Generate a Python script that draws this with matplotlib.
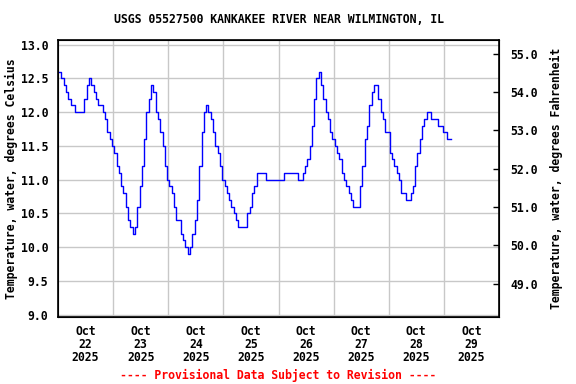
import matplotlib
matplotlib.use("Agg")
import matplotlib.pyplot as plt
import pandas as pd

# water temperature, deg C, hourly readings
oct22 = [12.6, 12.6, 12.5, 12.4, 12.3, 12.2, 12.1, 12.1, 12.0, 12.0, 12.0, 12.0,
         12.2, 12.4, 12.5, 12.4, 12.3, 12.2, 12.1, 12.1, 12.0, 11.9, 11.7, 11.6]
oct23 = [11.5, 11.4, 11.2, 11.1, 10.9, 10.8, 10.6, 10.4, 10.3, 10.2, 10.3, 10.6,
         10.9, 11.2, 11.6, 12.0, 12.2, 12.4, 12.3, 12.0, 11.9, 11.7, 11.5, 11.2]
oct24 = [11.0, 10.9, 10.8, 10.6, 10.4, 10.4, 10.2, 10.1, 10.0, 9.9, 10.0, 10.2,
         10.4, 10.7, 11.2, 11.7, 12.0, 12.1, 12.0, 11.9, 11.7, 11.5, 11.4, 11.2]
oct25 = [11.0, 10.9, 10.8, 10.7, 10.6, 10.5, 10.4, 10.3, 10.3, 10.3, 10.3, 10.5,
         10.6, 10.8, 10.9, 11.1, 11.1, 11.1, 11.1, 11.0, 11.0, 11.0, 11.0, 11.0]
oct26 = [11.0, 11.0, 11.0, 11.1, 11.1, 11.1, 11.1, 11.1, 11.1, 11.0, 11.0, 11.1,
         11.2, 11.3, 11.5, 11.8, 12.2, 12.5, 12.6, 12.4, 12.2, 12.0, 11.9, 11.7]
oct27 = [11.6, 11.5, 11.4, 11.3, 11.1, 11.0, 10.9, 10.8, 10.7, 10.6, 10.6, 10.6,
         10.9, 11.2, 11.6, 11.8, 12.1, 12.3, 12.4, 12.4, 12.2, 12.0, 11.9, 11.7]
oct28 = [11.7, 11.4, 11.3, 11.2, 11.1, 11.0, 10.8, 10.8, 10.7, 10.7, 10.8, 10.9,
         11.2, 11.4, 11.6, 11.8, 11.9, 12.0, 12.0, 11.9, 11.9, 11.9, 11.8, 11.8]
oct29 = [11.7, 11.7, 11.6, 11.6]

temps = oct22 + oct23 + oct24 + oct25 + oct26 + oct27 + oct28 + oct29
times = pd.date_range("2025-10-22 00:00", periods=len(temps), freq="h")

day_nums = [22, 23, 24, 25, 26, 27, 28, 29]
day_labels = ["Oct\n%d\n2025" % d for d in day_nums]
label_pos = pd.to_datetime(["2025-10-%d 12:00" % d for d in day_nums])
grid_pos = pd.to_datetime(["2025-10-%d 00:00" % d for d in range(23, 30)])

c_ticks = [9.0, 9.5, 10.0, 10.5, 11.0, 11.5, 12.0, 12.5, 13.0]
f_ticks = [49.0, 50.0, 51.0, 52.0, 53.0, 54.0, 55.0]

font = {"family": "DejaVu Sans Mono", "weight": "bold", "size": 8.3}

fig = plt.figure(figsize=(5.76, 3.84), dpi=100)
ax = fig.add_axes([58 / 576, 1 - 317 / 384, 441 / 576, 277 / 384])

ax.plot(times, temps, color="#0000ff", linewidth=1.0, drawstyle="steps-mid", zorder=3)

ax.set_ylim(8.963, 13.067)
ax.set_xlim(pd.Timestamp("2025-10-22 00:00"), pd.Timestamp("2025-10-30 00:00"))

ax.set_yticks(c_ticks)
ax.set_yticklabels(["%.1f" % v for v in c_ticks], fontdict=font)
ax.set_xticks(label_pos)
ax.set_xticklabels(day_labels, fontdict=font, linespacing=0.98)
ax.set_xticks(grid_pos, minor=True)
ax.tick_params(axis="x", which="both", length=0, pad=6)
ax.tick_params(axis="y", length=0, pad=7)

for y in c_ticks:
    ax.axhline(y, color="#c8c8c8", linewidth=1.0, zorder=1)
for x in grid_pos:
    ax.axvline(x, color="#c8c8c8", linewidth=1.0, zorder=1)

for s in ax.spines.values():
    s.set_linewidth(1.2)

ax.set_ylabel("Temperature, water, degrees Celsius", fontdict=font, labelpad=2)

# the USGS right scale is drawn slightly off a pure C->F conversion
ax2 = ax.twinx()
ax2.set_ylim(48.13, 55.36)
ax2.set_yticks(f_ticks)
ax2.set_yticklabels(["%.1f" % v for v in f_ticks], fontdict=font)
ax2.tick_params(axis="y", direction="in", length=4, width=1, pad=8)
ax2.set_ylabel("Temperature, water, degrees Fahrenheit", fontdict=font, labelpad=9)

ax.set_title("USGS 05527500 KANKAKEE RIVER NEAR WILMINGTON, IL", fontdict=font, pad=12)

fig.text(278 / 576, 1 - 375 / 384, "---- Provisional Data Subject to Revision ----",
         color="red", ha="center", va="center", **font)

fig.savefig("out.png", dpi=100)
